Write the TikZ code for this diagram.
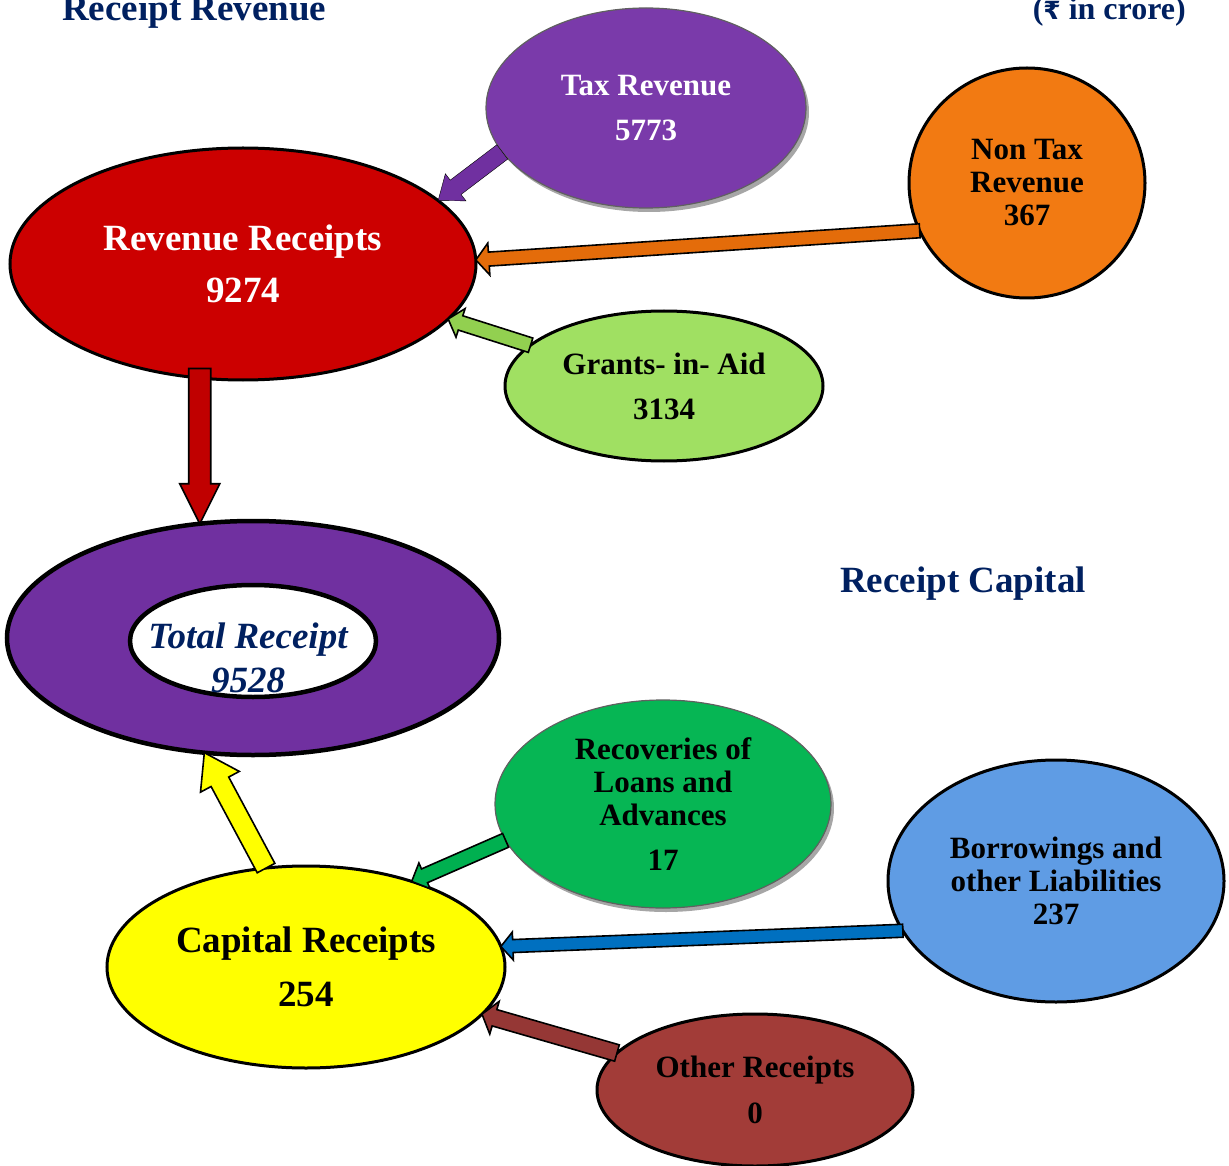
\documentclass[tikz,border=0pt]{standalone}
\usepackage{fontspec}
\setmainfont{Liberation Serif}
\newfontfamily\rupeefont{DejaVu Sans}
\usetikzlibrary{calc,shapes.geometric,shadows}

\definecolor{navy}{HTML}{002060}
\definecolor{taxc}{HTML}{7A3AAA}
\definecolor{revc}{HTML}{CC0000}
\definecolor{ntaxc}{HTML}{F27A12}
\definecolor{giac}{HTML}{A0E062}
\definecolor{totc}{HTML}{7030A0}
\definecolor{recc}{HTML}{06B654}
\definecolor{borc}{HTML}{5F9CE4}
\definecolor{capc}{HTML}{FFFF00}
\definecolor{othc}{HTML}{A23C38}
\definecolor{arrpurple}{HTML}{7030A0}
\definecolor{arrorange}{HTML}{E46C0A}
\definecolor{arrlgreen}{HTML}{92D050}
\definecolor{arrred}{HTML}{C00000}
\definecolor{arrgreen}{HTML}{00B050}
\definecolor{arrblue}{HTML}{0070C0}
\definecolor{arrbrown}{HTML}{953735}

% flat fill with a darker soft rim near the edge
\colorlet{rimin}{white}
\colorlet{rimout}{gray}
\pgfdeclareradialshading[rimin,rimout]{rim}{\pgfpoint{0bp}{0bp}}{%
  color(0bp)=(rimin); color(43bp)=(rimin); color(50bp)=(rimout)}

\tikzset{
  bub/.style={ellipse, draw=black, line width=3pt, inner sep=0pt, outer sep=0pt,
    align=center, font=\bfseries\fontsize{31}{33}\selectfont},
  rimfill/.style={shading=rim,
    /utils/exec={\colorlet{rimin}{#1}\colorlet{rimout}{#1!58!black}}},
  softbub/.style={draw=gray!75!black, line width=1.2pt,
    drop shadow={shadow xshift=3pt, shadow yshift=-4pt, fill=black, opacity=.35}},
  heading/.style={font=\bfseries\fontsize{37}{40}\selectfont, text=navy, inner sep=0pt},
  arr/.style={fill=#1, draw=black, line width=1.6pt, line join=miter},
}

% block arrow: style, tail, tip, half shaft width, half head width, head length
\newcommand\blockarrow[6]{%
  \coordinate (ba-h) at ($(#3)!#6!(#2)$);
  \draw[#1] ($(#2)!#4!90:(#3)$) -- ($(ba-h)!#4!90:(#3)$) -- ($(ba-h)!#5!90:(#3)$)
    -- (#3) -- ($(ba-h)!#5!-90:(#3)$) -- ($(ba-h)!#4!-90:(#3)$)
    -- ($(#2)!#4!-90:(#3)$) -- cycle;
}

\begin{document}
\begin{tikzpicture}[x=1pt, y=-1pt]
\useasboundingbox (0,0) rectangle (1229,1166);

% headings
\node[heading, anchor=base west] (hrev) at (62,21) {Receipt Revenue};
\node[heading, anchor=base east, font=\bfseries\fontsize{32}{36}\selectfont] (unit) at (1186,20)
  {({\rupeefont\bfseries\fontsize{25}{36}\selectfont ₹} in crore)};
\node[heading, anchor=base west] (hcap) at (840,592) {Receipt Capital};

% revenue side
\node[bub, rimfill=taxc, softbub, text=white, minimum width=320pt, minimum height=200pt,
  font=\bfseries\fontsize{31}{45}\selectfont] (tax) at (646,108) {Tax Revenue\\5773};
\node[bub, rimfill=revc, text=white, minimum width=466pt, minimum height=232pt,
  font=\bfseries\fontsize{37}{52}\selectfont] (rev) at (243,264) {Revenue Receipts\\9274};
\node[bub, rimfill=ntaxc, minimum width=236pt, minimum height=230pt] (ntax) at (1027,183)
  {Non Tax\\Revenue\\367};
\node[bub, rimfill=giac, minimum width=318pt, minimum height=150pt,
  font=\bfseries\fontsize{31}{45}\selectfont] (gia) at (664,386) {Grants- in- Aid\\3134};

% total
\node[ellipse, draw=black, line width=4.5pt, fill=totc, inner sep=0pt, outer sep=0pt,
  minimum width=492pt, minimum height=234pt] (tot) at (253,638) {};
\node[ellipse, draw=black, line width=4.5pt, fill=white, inner sep=0pt,
  minimum width=246pt, minimum height=112pt] (totin) at (253,641) {};
\node[font=\bfseries\itshape\fontsize{37}{44}\selectfont, text=navy, align=center,
  inner sep=0pt] (totlbl) at (248,658) {Total Receipt\\9528};

% capital side
\node[bub, rimfill=recc, softbub, minimum width=336pt, minimum height=208pt] (rec) at (663,804)
  {Recoveries of\\Loans and\\Advances\\[12pt]17};
\node[bub, rimfill=borc, minimum width=336pt, minimum height=242pt] (bor) at (1056,881)
  {Borrowings and\\other Liabilities\\237};
\node[bub, rimfill=capc, minimum width=398pt, minimum height=202pt,
  font=\bfseries\fontsize{37}{54}\selectfont] (cap) at (306,967) {Capital Receipts\\254};
\node[bub, rimfill=othc, minimum width=316pt, minimum height=152pt,
  font=\bfseries\fontsize{31}{46}\selectfont] (oth) at (755,1090) {Other Receipts\\0};

% vertical drop from revenue receipts into the total
\coordinate (revout) at ($(rev.247 -| tot.115)+(0,-9)$);

% flows
\blockarrow{fill=arrpurple}{tax.197}{rev.18}{9pt}{17pt}{22pt}
\blockarrow{arr=arrorange}{ntax.204}{rev.1}{7pt}{16pt}{13pt}
\blockarrow{arr=arrlgreen}{gia.163}{rev.345}{7.5pt}{15pt}{13pt}
\blockarrow{arr=arrred}{revout}{tot.115}{11pt}{20pt}{40pt}
\blockarrow{arr=capc}{cap.112}{tot.247}{10pt}{22pt}{33pt}
\blockarrow{arr=arrgreen}{rec.193}{cap.39}{7.5pt}{14pt}{14pt}
\blockarrow{arr=arrblue}{bor.198}{cap.6}{6.5pt}{14pt}{12pt}
\blockarrow{arr=arrbrown}{oth.165}{cap.345}{8.5pt}{17pt}{13pt}
\end{tikzpicture}
\end{document}
